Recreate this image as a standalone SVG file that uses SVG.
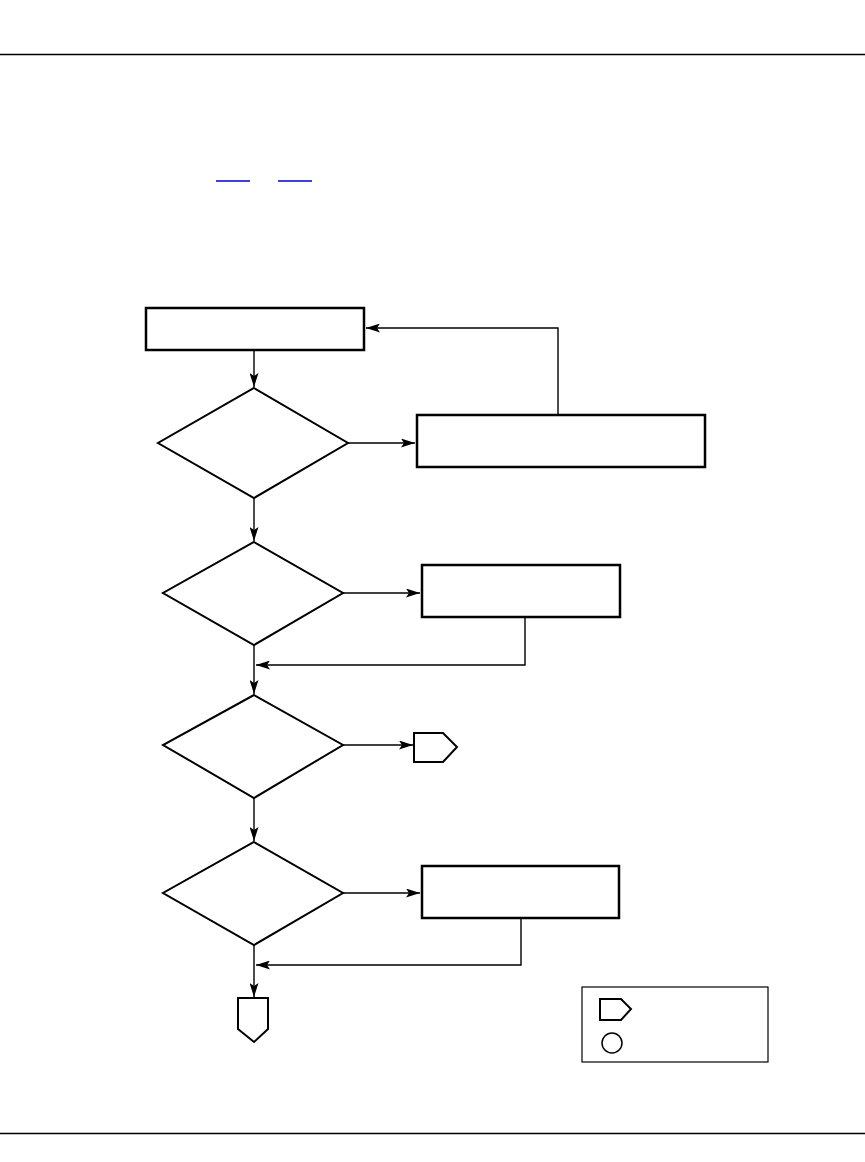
<svg xmlns="http://www.w3.org/2000/svg" width="865" height="1162" viewBox="0 0 865 1162">
<defs>
<marker id="ah" viewBox="0 0 14 9" refX="14" refY="4.5" markerWidth="14" markerHeight="9" markerUnits="userSpaceOnUse" orient="auto">
<path d="M0,0 L14,4.5 L0,9 L3,4.5 Z" fill="#000"/>
</marker>
<style>
.box{fill:#fff;stroke:#000;stroke-width:2.5}
.dia{fill:#fff;stroke:#000;stroke-width:2}
.conn{fill:none;stroke:#000;stroke-width:1.4}
.arr{marker-end:url(#ah)}
.rule{stroke:#000;stroke-width:1.5}
.link{stroke:#0000cc;stroke-width:1.5}
</style>
</defs>
<rect width="865" height="1162" fill="#fff"/>
<line class="rule" x1="0" y1="54.5" x2="865" y2="54.5"/>
<line class="rule" x1="0" y1="1133.5" x2="865" y2="1133.5"/>
<line class="link" x1="216" y1="181" x2="250" y2="181"/>
<line class="link" x1="278" y1="181" x2="312" y2="181"/>
<g id="connectors">
<path class="conn arr" d="M254,350 V387"/>
<path class="conn arr" d="M348,443 H415"/>
<path class="conn arr" d="M558,415 V328 H366"/>
<path class="conn arr" d="M254,498 V541"/>
<path class="conn arr" d="M343,593 H420"/>
<path class="conn arr" d="M525,617 V665 H256"/>
<path class="conn arr" d="M254,645 V694"/>
<path class="conn arr" d="M343,745 H413"/>
<path class="conn arr" d="M254,798 V841"/>
<path class="conn arr" d="M343,893 H420"/>
<path class="conn arr" d="M521,918 V965 H256"/>
<path class="conn arr" d="M254,945 V997"/>
</g>
<g id="box1"><rect class="box" x="146" y="308" width="218" height="42"/></g>
<g id="decision1"><polygon class="dia" points="254,388 348,443 254,498 158,443"/></g>
<g id="box2"><rect class="box" x="417" y="415" width="288" height="52"/></g>
<g id="decision2"><polygon class="dia" points="254,542 343,593 254,645 163,593"/></g>
<g id="box3"><rect class="box" x="422" y="565" width="198" height="52"/></g>
<g id="decision3"><polygon class="dia" points="254,695 343,745 254,798 163,745"/></g>
<g id="offpage1"><polygon class="dia" points="414,733 443,733 457,747 443,762 414,762"/></g>
<g id="decision4"><polygon class="dia" points="254,842 343,893 254,945 163,893"/></g>
<g id="box4"><rect class="box" x="422" y="866" width="197" height="52"/></g>
<g id="offpage2"><polygon class="dia" points="238,998 268,998 268,1029 254,1042 238,1029"/></g>
<g id="legend">
<rect x="582" y="987" width="186" height="75" fill="#fff" stroke="#000" stroke-width="1.2"/>
<polygon fill="#fff" stroke="#000" stroke-width="2" points="600,999 621,999 631,1009 621,1020 600,1020"/>
<circle cx="612" cy="1043" r="10" fill="#fff" stroke="#000" stroke-width="1.5"/>
</g>
</svg>
